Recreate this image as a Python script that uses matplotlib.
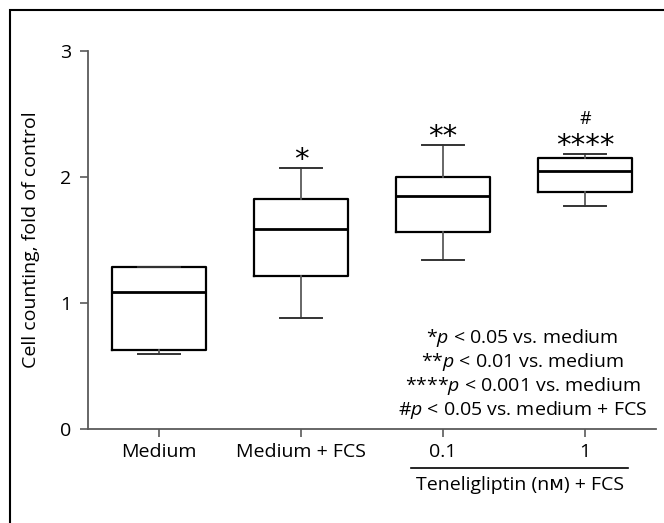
import matplotlib
matplotlib.use("Agg")
import matplotlib.pyplot as plt
from matplotlib.patches import Rectangle
from matplotlib.lines import Line2D

plt.rcParams['font.family'] = ['Open Sans', 'DejaVu Sans']
plt.rcParams['mathtext.fontset'] = 'custom'
plt.rcParams['mathtext.rm'] = 'Open Sans'
plt.rcParams['mathtext.it'] = 'Open Sans:italic'

# box statistics (fold of control)
groups = ["Medium", "Medium + FCS", "0.1", "1"]
whis_lo = [0.594, 0.882, 1.344, 1.767]
q1 = [0.628, 1.212, 1.561, 1.883]
med = [1.088, 1.585, 1.849, 2.049]
q3 = [1.289, 1.827, 1.999, 2.152]
whis_hi = [1.289, 2.068, 2.253, 2.181]

stars = ["", "*", "**", "****"]
star_y = [0, 2.135, 2.315, 2.245]
hash_y = 2.455

legend_lines = ["*$p$ < 0.05 vs. medium",
                "**$p$ < 0.01 vs. medium",
                "****$p$ < 0.001 vs. medium",
                "#$p$ < 0.05 vs. medium + FCS"]

gray = '#5a5a5a'

fig = plt.figure(figsize=(6.64, 5.23), dpi=100)
ax = fig.add_axes([88/664, 1 - 429.3/523, 568/664, 378.6/523])

stats = []
for i in range(len(groups)):
    stats.append(dict(label=groups[i], whislo=whis_lo[i], q1=q1[i], med=med[i],
                      q3=q3[i], whishi=whis_hi[i], fliers=[]))

ax.bxp(stats, positions=range(len(groups)), widths=0.66, showfliers=False,
       capwidths=0.3,
       boxprops=dict(color='black', linewidth=1.6),
       medianprops=dict(color='black', linewidth=2.0),
       whiskerprops=dict(color=gray, linewidth=1.3),
       capprops=dict(color='#333333', linewidth=1.4))

ax.set_xlim(-0.5, 3.5)
ax.set_ylim(0, 3)
ax.set_yticks([0, 1, 2, 3])
ax.set_xticks(range(len(groups)))
ax.set_xticklabels(groups)

for s in ['top', 'right']:
    ax.spines[s].set_visible(False)
for s in ['left', 'bottom']:
    ax.spines[s].set_color(gray)
    ax.spines[s].set_linewidth(1.3)
ax.tick_params(axis='both', colors=gray, length=6, width=1.2, labelsize=14,
               labelcolor='black')
ax.tick_params(axis='x', pad=4)
ax.tick_params(axis='y', pad=6)

ax.set_ylabel("Cell counting, fold of control", fontsize=14)
ax.yaxis.set_label_coords(-0.085, 0.5)

# significance marks
for i in range(len(groups)):
    if stars[i]:
        ax.text(i, star_y[i], stars[i], ha='center', va='center', fontsize=21,
                family='DejaVu Sans')
ax.text(3, hash_y, "#", ha='center', va='center', fontsize=13)

# legend text
leg_y = [0.241, 0.178, 0.115, 0.051]
for t, y in zip(legend_lines, leg_y):
    ax.text(0.765, y, t, transform=ax.transAxes, ha='center', va='center',
            fontsize=14)

# group bracket for teneligliptin doses
trans = ax.get_xaxis_transform()
ax.add_line(Line2D([1.775, 3.303], [-0.102, -0.102], transform=trans,
                   color='black', linewidth=1.2, clip_on=False))
ax.text(2.539, -0.147, "Teneligliptin (nᴍ) + FCS", transform=trans,
        ha='center', va='center', fontsize=14)

# outer frame (only left and top edges fall inside the image)
fig.add_artist(Rectangle((9.5/664, -0.1), 1.2, 1.1 - 10.5/523,
                         transform=fig.transFigure, fill=False,
                         edgecolor='black', linewidth=1.5))

fig.savefig("out.png", dpi=100)
